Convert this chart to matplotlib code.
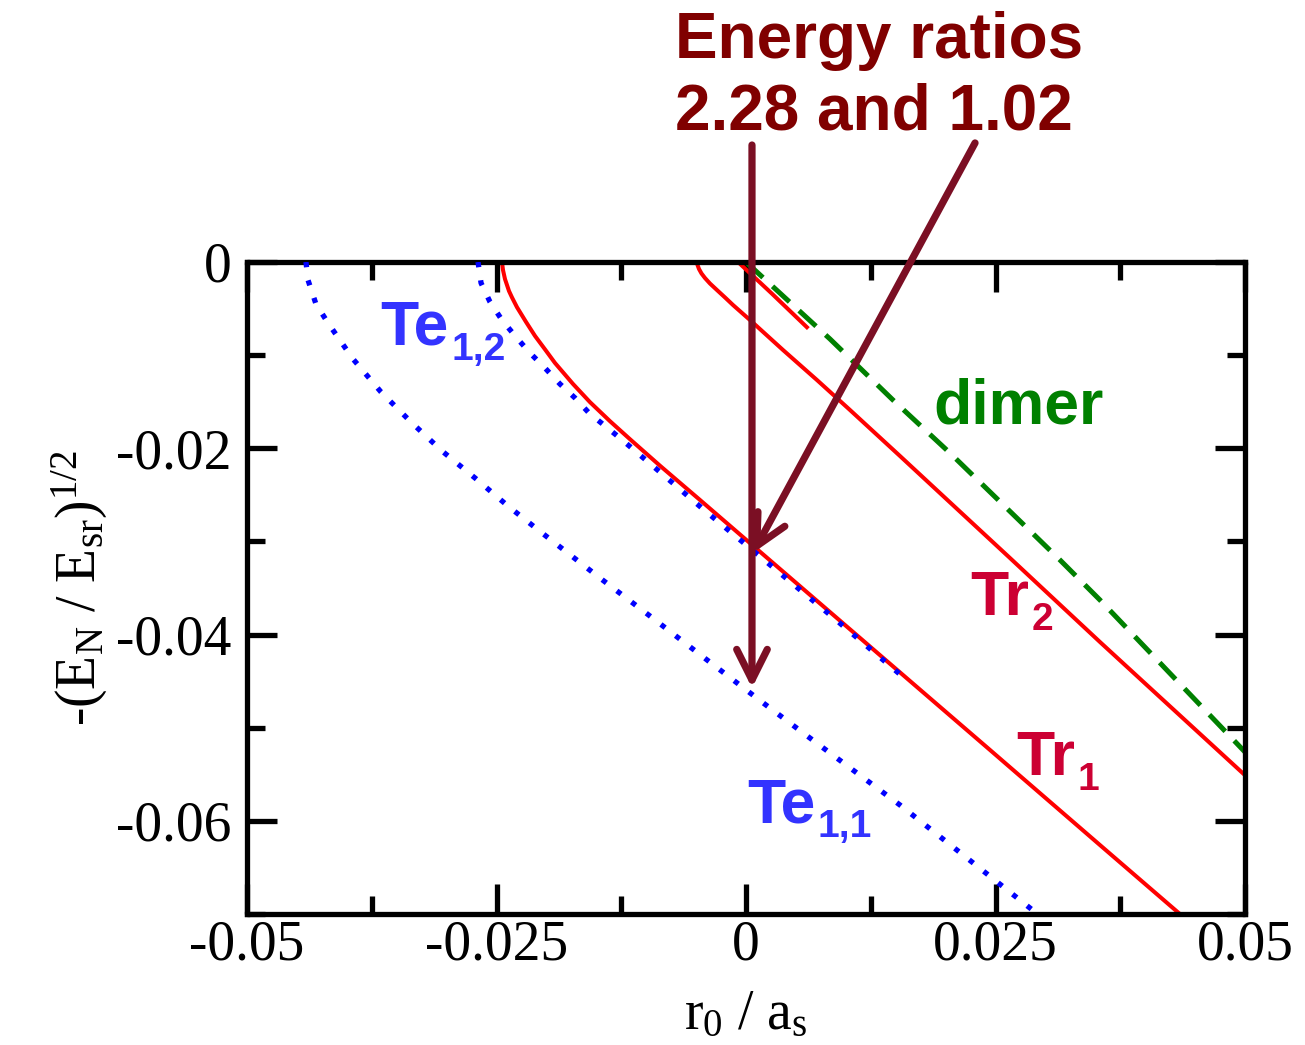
import matplotlib
matplotlib.use('Agg')
import matplotlib.pyplot as plt
from matplotlib.ticker import FixedLocator, FixedFormatter

plt.rcParams['font.family'] = ['Liberation Serif', 'DejaVu Serif']
plt.rcParams['mathtext.fontset'] = 'custom'
plt.rcParams['mathtext.rm'] = 'Liberation Serif'
plt.rcParams['mathtext.it'] = 'Liberation Serif:italic'
plt.rcParams['mathtext.bf'] = 'Liberation Serif:bold'
plt.rcParams['mathtext.default'] = 'regular'

# branches: r0/a_s on x, -(E/E_sr)^(1/2) on y
tr1_x = [-0.02445, -0.02435, -0.02415, -0.02375, -0.02345, -0.02295, -0.02204, -0.02114,
         -0.02014, -0.01914, -0.01733, -0.01563, -0.01363, -0.01162, -0.00862, -0.00461,
         0.00541, 0.01543, 0.02445, 0.03547, 0.04379]
tr1_y = [0.0, -0.00086, -0.00183, -0.00311, -0.0038, -0.00485, -0.00644, -0.00794,
         -0.00938, -0.01084, -0.0131, -0.01505, -0.01709, -0.01903, -0.02187, -0.02555,
         -0.03481, -0.04406, -0.05239, -0.0626, -0.07029]

tr2_x = [-0.00491, -0.00486, -0.00471, -0.00446, -0.00411, -0.00361, -0.00291, -0.0021,
         -0.0013, 0.0004, 0.00371, 0.00711, 0.01042, 0.01543, 0.02645, 0.03547, 0.0500]
tr2_y = [0.0, -0.00032, -0.00075, -0.00123, -0.00172, -0.00231, -0.00301, -0.00381,
         -0.00462, -0.00623, -0.00945, -0.01267, -0.01589, -0.02083, -0.03178, -0.0408, -0.0551]

tr_short_x = [-0.0008, 0.0026, 0.0061]
tr_short_y = [0.0, -0.0034, -0.0070]

dimer_x = [0.0, 0.00842, 0.01473, 0.02044, 0.03146, 0.03547, 0.0500]
dimer_y = [0.0, -0.00827, -0.01482, -0.02051, -0.03199, -0.03629, -0.05261]

te11_x = [-0.04409, -0.04389, -0.04309, -0.04188, -0.03938, -0.03657, -0.03357, -0.03046,
          -0.02715, -0.02385, -0.02044, -0.01463, -0.00962, -0.00351, 0.0016, 0.00681,
          0.01543, 0.02214, 0.02896]
te11_y = [0.0, -0.00193, -0.00451, -0.00655, -0.01041, -0.01396, -0.01718, -0.02029,
          -0.02319, -0.0262, -0.02909, -0.03393, -0.03801, -0.04305, -0.04724, -0.05143,
          -0.0583, -0.06399, -0.06979]

te12_x = [-0.02685, -0.02655, -0.02565, -0.02445, -0.02305, -0.02164, -0.02014, -0.01864,
          -0.01713, -0.01573, -0.01263, -0.00862, -0.00431, 0.0022, 0.00892, 0.01563]
te12_y = [0.0, -0.00225, -0.00429, -0.00623, -0.00805, -0.00977, -0.01138, -0.0131,
          -0.0146, -0.01621, -0.0189, -0.02255, -0.02652, -0.03232, -0.03833, -0.04445]

x_ticks = [-0.05, -0.025, 0.0, 0.025, 0.05]
x_ticklabels = ['-0.05', '-0.025', '0', '0.025', '0.05']
x_minor = [-0.0375, -0.0125, 0.0125, 0.0375]
y_ticks = [0.0, -0.02, -0.04, -0.06]
y_ticklabels = ['0', '-0.02', '-0.04', '-0.06']
y_minor = [-0.01, -0.03, -0.05, -0.07]

# arrows at r0 = 0 (tail, tip)
arrow_ratio1 = ((0.0006, 0.01256), (0.0006, -0.04574))
arrow_ratio2 = ((0.02295, 0.01278), (0.0007, -0.03124))

W, H = 1305, 1045
fig = plt.figure(figsize=(W / 100, H / 100), dpi=100)
ax = fig.add_axes([247 / W, 1 - 914 / H, 998 / W, 652 / H])

ax.plot(tr1_x, tr1_y, color='#ff0000', lw=2.9, zorder=2)
ax.plot(tr2_x, tr2_y, color='#ff0000', lw=2.9, zorder=2)
ax.plot(tr_short_x, tr_short_y, color='#ff0000', lw=2.9, zorder=2)
ax.plot(dimer_x, dimer_y, color='#008000', lw=3.6, linestyle=(0, (4.6, 2.6)), zorder=2)
ax.plot(te11_x, te11_y, color='#0000ff', lw=3.8, linestyle=(0, (1, 2.5)), zorder=3)
ax.plot(te12_x, te12_y, color='#0000ff', lw=3.8, linestyle=(0, (1, 2.5)), zorder=3)

ax.set_xlim(-0.05, 0.05)
ax.set_ylim(-0.07, 0.0)

ax.xaxis.set_major_locator(FixedLocator(x_ticks))
ax.xaxis.set_major_formatter(FixedFormatter(x_ticklabels))
ax.xaxis.set_minor_locator(FixedLocator(x_minor))
ax.yaxis.set_major_locator(FixedLocator(y_ticks))
ax.yaxis.set_major_formatter(FixedFormatter(y_ticklabels))
ax.yaxis.set_minor_locator(FixedLocator(y_minor))

for s in ax.spines.values():
    s.set_linewidth(3.8)
ax.tick_params(which='both', direction='in', top=True, right=True, width=3.8)
ax.tick_params(which='major', length=21.5, labelsize=40)
ax.tick_params(which='minor', length=13)
ax.tick_params(axis='x', which='major', pad=4)
ax.tick_params(axis='y', which='major', pad=11)

ax.set_xlabel(r'r$_0$ / a$_\mathrm{s}$', fontsize=40)
ax.xaxis.set_label_coords(0.5, -0.115)
ax.set_ylabel(r'-(E$_N$ / E$_{sr}$)$^{1/2}$', fontsize=40)
ax.yaxis.set_label_coords(-0.137, 0.5)

sans = ['Liberation Sans', 'DejaVu Sans']


def branch_label(x, y, main, sub, color):
    t = ax.text(x, y, main, color=color, fontsize=45, fontweight='bold',
                family=sans, ha='left', va='baseline', zorder=5)
    ax.annotate(sub, xy=(1, 0), xycoords=t, xytext=(1.5, -7), textcoords='offset points',
                color=color, fontsize=28, fontweight='bold', family=sans,
                ha='left', va='bottom', zorder=5)


branch_label(-0.0366, -0.0089, 'Te', '1,2', '#3333ff')
branch_label(0.0001, -0.0602, 'Te', '1,1', '#3333ff')
branch_label(0.0225, -0.0379, 'Tr', '2', '#cc0033')
branch_label(0.0271, -0.0551, 'Tr', '1', '#cc0033')
ax.text(0.0188, -0.0173, 'dimer', color='#008000', fontsize=45, fontweight='bold',
        family=sans, ha='left', va='baseline', zorder=5)

fig.text(675 / W, 1 - 58 / H, 'Energy ratios', color='#800000', fontsize=46,
         fontweight='bold', family=sans, ha='left', va='baseline')
fig.text(675 / W, 1 - 130 / H, '2.28 and 1.02', color='#800000', fontsize=46,
         fontweight='bold', family=sans, ha='left', va='baseline')

for tail, tip in (arrow_ratio1, arrow_ratio2):
    ax.annotate('', xy=tip, xytext=tail, xycoords='data', annotation_clip=False,
                arrowprops=dict(arrowstyle='->,head_length=1.1,head_width=0.55',
                                mutation_scale=20, color='#7b0f24', lw=5.2,
                                shrinkA=0, shrinkB=0), zorder=6)

fig.savefig('out.png', dpi=100)
